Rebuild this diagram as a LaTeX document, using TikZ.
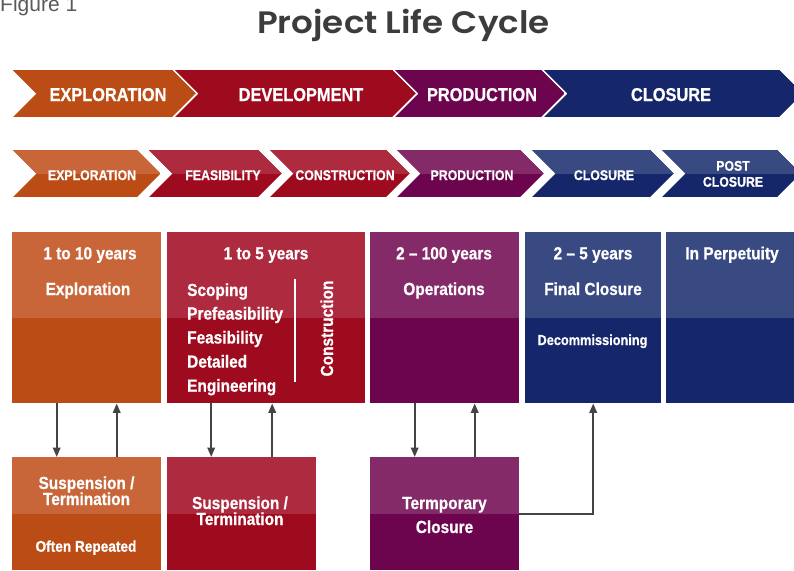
\documentclass[tikz,border=0pt]{standalone}
\usepackage{fontspec}
\setmainfont{Liberation Sans}[FakeStretch=0.88,BoldFeatures={FakeBold=0.7}]
\newfontfamily\titlefont{Poppins}[BoldFont={Poppins SemiBold},FakeStretch=1.1]
\newfontfamily\figfont{Liberation Sans}
\usetikzlibrary{arrows.meta}
\definecolor{orD}{HTML}{BC4C15}
\definecolor{orL}{HTML}{C8663A}
\definecolor{rdD}{HTML}{9E0A1E}
\definecolor{rdL}{HTML}{AD2A3F}
\definecolor{puD}{HTML}{6D054E}
\definecolor{puL}{HTML}{852A68}
\definecolor{nvD}{HTML}{15276A}
\definecolor{nvL}{HTML}{394A82}
\definecolor{arr}{HTML}{444444}
\definecolor{ttl}{HTML}{3C3C3C}
\definecolor{figgray}{HTML}{5A5A5A}
% #1 left, #2 right (top corner), #3 top, #4 bottom, #5 dark, #6 light
\newcommand\chevshape[6]{%
  \begin{scope}
    \clip (#1,#3) -- (#2,#3) -- ({#2+(#4-#3)/2},{(#3+#4)/2}) -- (#2,#4) -- (#1,#4) -- ({#1+(#4-#3)/2},{(#3+#4)/2}) -- cycle;
    \fill[#5] (#1,#3) rectangle ({#2+(#4-#3)/2},#4);
    \fill[#6] (#1,#3) rectangle ({#2+(#4-#3)/2},{(#3+#4)/2});
  \end{scope}}
\begin{document}
\begin{tikzpicture}[x=1pt,y=-1pt,
  lbl/.style={text=white,inner sep=0pt,anchor=base,font=\bfseries\fontsize{17.5}{17.5}\selectfont},
  big/.style={text=white,inner sep=0pt,anchor=base,font=\bfseries\fontsize{18.6}{18.6}\selectfont},
  small/.style={text=white,inner sep=0pt,anchor=base,font=\bfseries\fontsize{14}{14}\selectfont},
  midbox/.style 2 args={fill=#1,draw=none,inner sep=0pt,anchor=north west,minimum height=171pt,
    path picture={\fill[#2] (path picture bounding box.north west) rectangle ([yshift=-86pt]path picture bounding box.north east);}},
  botbox/.style 2 args={fill=#1,draw=none,inner sep=0pt,anchor=north west,minimum height=113pt,minimum width=149pt,
    path picture={\fill[#2] (path picture bounding box.north west) rectangle ([yshift=-57pt]path picture bounding box.north east);}},
  link/.style={draw=arr,line width=2pt,-{Triangle[width=7.5pt,length=9.5pt]}}]
\clip (0,0) rectangle (794,570);

% title
\node[font=\figfont\fontsize{21}{21}\selectfont,text=figgray,anchor=base west,inner sep=0pt] (fig) at (0,12) {Figure 1};
\node[font=\titlefont\bfseries\fontsize{31}{31}\selectfont,text=ttl,anchor=base,inner sep=0pt] (title) at (403.5,33) {Project Life Cycle};

% row 1
\chevshape{13}{172}{70}{117}{orD}{orD}
\chevshape{175}{392}{70}{117}{rdD}{rdD}
\chevshape{395}{541}{70}{117}{puD}{puD}
\chevshape{544}{779}{70}{117}{nvD}{nvD}
\node[big] (p1) at (108,101) {EXPLORATION};
\node[big] (p2) at (301,101) {DEVELOPMENT};
\node[big] (p3) at (482,101) {PRODUCTION};
\node[big] (p4) at (671,101) {CLOSURE};

% row 2
\chevshape{13}{137}{150}{197}{orD}{orL}
\chevshape{149}{258}{150}{197}{rdD}{rdL}
\chevshape{270}{386}{150}{197}{rdD}{rdL}
\chevshape{397}{520}{150}{197}{puD}{puL}
\chevshape{532}{650}{150}{197}{nvD}{nvL}
\chevshape{662}{777}{150}{197}{nvD}{nvL}
\node[small] (q1) at (92,180) {EXPLORATION};
\node[small] (q2) at (223,180) {FEASIBILITY};
\node[small] (q3) at (345,180) {CONSTRUCTION};
\node[small] (q4) at (472,180) {PRODUCTION};
\node[small] (q5) at (604,180) {CLOSURE};
\node[small] (q6a) at (733,170.7) {POST};
\node[small] (q6b) at (733,186.7) {CLOSURE};

% middle boxes
\node[midbox={orD}{orL},minimum width=149pt] (b1) at (12,232) {};
\node[midbox={rdD}{rdL},minimum width=198pt] (b2) at (167,232) {};
\node[midbox={puD}{puL},minimum width=149pt] (b3) at (370,232) {};
\node[midbox={nvD}{nvL},minimum width=136pt] (b4) at (525,232) {};
\node[midbox={nvD}{nvL},minimum width=130pt] (b5) at (666,232) {};

\node[lbl] (t1a) at (90,259.3) {1 to 10 years};
\node[lbl] (t1b) at (88,295) {Exploration};
\node[lbl] (t2a) at (266,259.3) {1 to 5 years};
\node[lbl,anchor=base west] (t2b) at (187,296) {Scoping};
\node[lbl,anchor=base west] (t2c) at (187,319.5) {Prefeasibility};
\node[lbl,anchor=base west] (t2d) at (187,343.5) {Feasibility};
\node[lbl,anchor=base west] (t2e) at (187,367.6) {Detailed};
\node[lbl,anchor=base west] (t2f) at (187,391.7) {Engineering};
\draw[white,line width=2pt] (295,279) -- (295,382);
\node[lbl,rotate=90] (t2g) at (333,328.5) {Construction};
\node[lbl] (t3a) at (444,259.3) {2 – 100 years};
\node[lbl] (t3b) at (444,295) {Operations};
\node[lbl] (t4a) at (593,259.3) {2 – 5 years};
\node[lbl] (t4b) at (593,295) {Final Closure};
\node[lbl,font=\bfseries\fontsize{14.5}{14.5}\selectfont] (t4c) at (592.5,345) {Decommissioning};
\node[lbl] (t5a) at (732,259.3) {In Perpetuity};

% bottom boxes
\node[botbox={orD}{orL}] (s1) at (12,457) {};
\node[botbox={rdD}{rdL}] (s2) at (167,457) {};
\node[botbox={puD}{puL}] (s3) at (370,457) {};

\node[lbl] (u1a) at (86.5,489) {Suspension /};
\node[lbl] (u1b) at (86.5,505) {Termination};
\node[lbl,font=\bfseries\fontsize{15.5}{15.5}\selectfont] (u1c) at (86,551.7) {Often Repeated};
\node[lbl] (u2a) at (240,509) {Suspension /};
\node[lbl] (u2b) at (240,525) {Termination};
\node[lbl] (u3a) at (444.5,509) {Termporary};
\node[lbl] (u3b) at (444.5,533) {Closure};

% connectors
\draw[link] ([xshift=-30pt]b1.south) -- ([xshift=-30pt]s1.north);
\draw[link] ([xshift=30pt]s1.north) -- ([xshift=30pt]b1.south);
\draw[link] ([xshift=-30.5pt]s2.north |- b2.south) -- ([xshift=-30.5pt]s2.north);
\draw[link] ([xshift=30.5pt]s2.north) -- ([xshift=30.5pt]s2.north |- b2.south);
\draw[link] ([xshift=-30pt]b3.south) -- ([xshift=-30pt]s3.north);
\draw[link] ([xshift=30pt]s3.north) -- ([xshift=30pt]b3.south);
\draw[link] (s3.east) -| (b4.south);
\end{tikzpicture}
\end{document}
